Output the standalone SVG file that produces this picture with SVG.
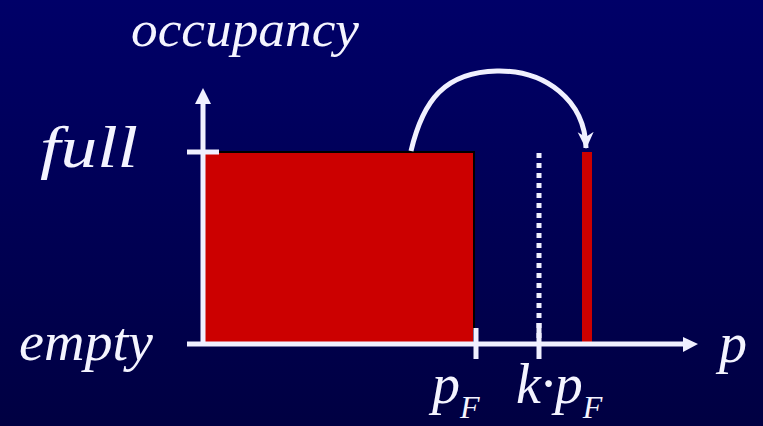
<svg xmlns="http://www.w3.org/2000/svg" width="763" height="426" viewBox="0 0 763 426">
<defs>
<linearGradient id="bg" x1="0" y1="0" x2="0" y2="1">
<stop offset="0" stop-color="#000068"/>
<stop offset="1" stop-color="#000042"/>
</linearGradient>
<marker id="chev" markerWidth="18" markerHeight="18" viewBox="0 0 18 18" refX="16" refY="9" orient="auto" markerUnits="userSpaceOnUse">
<path d="M0,1 L17,9 L0,17 L5,9 Z" fill="#f0f0ff"/>
</marker>
<style>
.ax{stroke:#f0f0ff;stroke-width:5;fill:none}
.hd{fill:#f0f0ff}
.lb{font-family:"Liberation Serif","Times New Roman",serif;font-style:italic;fill:#f4f4ff}
</style>
</defs>
<rect width="763" height="426" fill="url(#bg)"/>
<g id="bars">
<rect x="205" y="153" width="268" height="189" fill="#cc0000"/>
<polyline points="205,152 474,152 474,330" fill="none" stroke="#000000" stroke-width="2"/>
<rect x="582" y="152" width="10" height="190" fill="#cc0000"/>
</g>
<g id="connectors">
<line class="ax" x1="203" y1="345" x2="203" y2="102"/>
<path class="hd" d="M203,88 L211,104 L195,104 Z"/>
<line class="ax" x1="187" y1="344" x2="685" y2="344"/>
<path class="hd" d="M698,344 L683,337 L683,352 Z"/>
<line class="ax" x1="187" y1="152" x2="219" y2="152"/>
<line class="ax" x1="476" y1="328" x2="476" y2="359"/>
<line class="ax" x1="539" y1="323" x2="539" y2="359"/>
<line stroke="#f0f0ff" stroke-width="5" stroke-dasharray="5 5" x1="539" y1="153" x2="539" y2="342"/>
<path class="ax" stroke-width="4" d="M411,151 C423,100 445,72 497,71 C545,70 585,100 586,148" marker-end="url(#chev)"/>
</g>
<g id="labels">
<text class="lb" x="131" y="46" font-size="51" textLength="228" lengthAdjust="spacingAndGlyphs">occupancy</text>
<text class="lb" x="40" y="167" font-size="60" textLength="98" lengthAdjust="spacingAndGlyphs">full</text>
<text class="lb" x="19" y="360" font-size="54" textLength="134" lengthAdjust="spacingAndGlyphs">empty</text>
<text class="lb" x="719" y="362" font-size="56">p</text>
<text class="lb" x="432" y="403" font-size="56">p<tspan font-size="32" dy="15">F</tspan></text>
<text class="lb" x="516" y="403" font-size="56">k·p<tspan font-size="32" dy="15">F</tspan></text>
</g>
</svg>
